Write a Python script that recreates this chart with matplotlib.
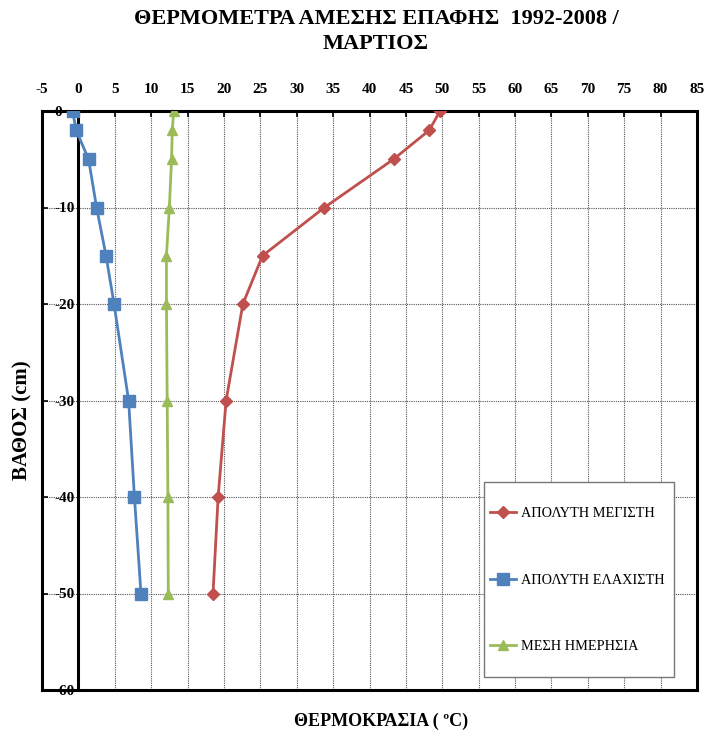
import matplotlib
matplotlib.use("Agg")
import matplotlib.pyplot as plt
from matplotlib.ticker import MultipleLocator, FuncFormatter
from matplotlib.patches import Rectangle

plt.rcParams['font.family'] = ['Liberation Serif', 'DejaVu Serif']
plt.rcParams['axes.unicode_minus'] = False

depth = [0, -2, -5, -10, -15, -20, -30, -40, -50]
t_max = [49.7, 48.2, 43.3, 33.8, 25.3, 22.6, 20.3, 19.2, 18.5]
t_min = [-0.8, -0.3, 1.4, 2.5, 3.8, 4.9, 6.9, 7.7, 8.6]
t_mean = [13.1, 12.9, 12.8, 12.5, 12.1, 12.1, 12.2, 12.3, 12.35]

labels = ['ΑΠΟΛΥΤΗ ΜΕΓΙΣΤΗ', 'ΑΠΟΛΥΤΗ ΕΛΑΧΙΣΤΗ', 'ΜΕΣΗ ΗΜΕΡΗΣΙΑ']
title = 'ΘΕΡΜΟΜΕΤΡΑ ΑΜΕΣΗΣ ΕΠΑΦΗΣ  1992-2008 /\nΜΑΡΤΙΟΣ'
xlabel = 'ΘΕΡΜΟΚΡΑΣΙΑ ( ºC)'
ylabel = 'ΒΑΘΟΣ (cm)'

fig = plt.figure(figsize=(7.06, 7.38), dpi=100)
ax = fig.add_axes([42/706, 1-690/738, 655/706, 579/738])

ax.set_xlim(-5, 85)
ax.set_ylim(-60, 0)

# grid
for xv in range(5, 85, 5):
    ax.axvline(xv, color='#555555', lw=0.8, ls=(0, (1, 1)), zorder=1)
for yv in range(-50, 0, 10):
    ax.axhline(yv, color='#555555', lw=0.8, ls=(0, (1, 1)), zorder=1)
ax.axvline(0, color='black', lw=2.2, zorder=2)

ax.plot(t_max, depth, color='#C0504D', lw=2, marker='D', ms=6, label=labels[0], zorder=3)
ax.plot(t_min, depth, color='#4F81BD', lw=2, marker='s', ms=8, label=labels[1], zorder=3)
ax.plot(t_mean, depth, color='#9BBB59', lw=2, marker='^', ms=7, label=labels[2], zorder=3)

for s in ax.spines.values():
    s.set_linewidth(2.2)
    s.set_color('black')

ax.xaxis.set_major_locator(MultipleLocator(5))
ax.yaxis.set_major_locator(MultipleLocator(10))
ax.xaxis.tick_top()
ax.tick_params(axis='x', direction='in', length=4, width=1.2, pad=11, labelsize=11)
ax.tick_params(axis='y', direction='in', length=4, width=1.2, pad=-9, labelsize=11)
for lab in ax.get_xticklabels():
    lab.set_fontweight('bold')
ax.yaxis.set_major_formatter(FuncFormatter(lambda v, p: '%d' % v))
for lab in ax.get_yticklabels():
    lab.set_fontweight('bold')
    lab.set_horizontalalignment('left')

fig.text(376/706, 1-31.5/738, title, ha='center', va='center', fontsize=16,
         fontweight='bold', linespacing=1.3)
fig.text(381/706, 1-721/738, xlabel, ha='center', va='center', fontsize=13, fontweight='bold')
fig.text(22/706, 1-420/738, ylabel, ha='center', va='center', fontsize=15,
         fontweight='bold', rotation=90)

# legend box
ax.add_patch(Rectangle((0.675, 0.022), 0.290, 0.337, transform=ax.transAxes,
                       facecolor='white', edgecolor='#777777', lw=1.0, zorder=4))
leg = ax.legend(loc='upper left', bbox_to_anchor=(0.684, 0.316),
                frameon=False, fontsize=10.3,
                labelspacing=3.75, handlelength=1.8, handletextpad=0.4,
                borderpad=0, borderaxespad=0)
leg.set_zorder(5)

fig.savefig('out.png', dpi=100)
